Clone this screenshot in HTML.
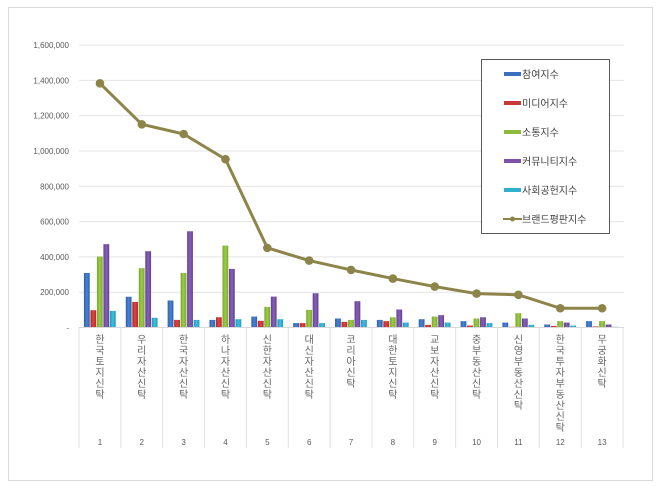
<!DOCTYPE html>
<html><head><meta charset="utf-8"><style>
html,body{margin:0;padding:0;background:#fff;}
svg{display:block;font-family:"Liberation Sans","Noto Sans CJK KR",sans-serif;}
</style></head><body>
<svg width="660" height="488" viewBox="0 0 660 488" xmlns="http://www.w3.org/2000/svg">
<defs>
<linearGradient id="gb" x1="0" x2="1"><stop offset="0" stop-color="#2f5fae"/><stop offset=".5" stop-color="#4a82d2"/><stop offset="1" stop-color="#2f5fae"/></linearGradient>
<linearGradient id="gr" x1="0" x2="1"><stop offset="0" stop-color="#b02a2a"/><stop offset=".5" stop-color="#dc4444"/><stop offset="1" stop-color="#b02a2a"/></linearGradient>
<linearGradient id="gg" x1="0" x2="1"><stop offset="0" stop-color="#7aa72e"/><stop offset=".5" stop-color="#9ccb48"/><stop offset="1" stop-color="#7aa72e"/></linearGradient>
<linearGradient id="gp" x1="0" x2="1"><stop offset="0" stop-color="#634090"/><stop offset=".5" stop-color="#8760b8"/><stop offset="1" stop-color="#634090"/></linearGradient>
<linearGradient id="gc" x1="0" x2="1"><stop offset="0" stop-color="#2198b8"/><stop offset=".5" stop-color="#3fc0dc"/><stop offset="1" stop-color="#2198b8"/></linearGradient>
</defs>
<rect x="8.5" y="7.5" width="644" height="473" fill="#fff" stroke="#d9d9d9"/>
<g id="chart"></g>
</svg>
<script>
const g=document.getElementById('chart');const NS='http://www.w3.org/2000/svg';
function el(t,a,txt){const e=document.createElementNS(NS,t);for(const k in a)e.setAttribute(k,a[k]);if(txt!==undefined)e.textContent=txt;g.appendChild(e);return e;}
const y0=327.5,ppu=282.5/1600000,X0=79,W=41.85;
const Y=v=>y0-v*ppu;
const labs=["1,600,000","1,400,000","1,200,000","1,000,000","800,000","600,000","400,000","200,000","-"];
for(let i=0;i<=8;i++){const v=(8-i)*200000;const y=Y(v);
 if(i<8)el('line',{x1:79,x2:624,y1:y,y2:y,stroke:'#e4e4e4','stroke-width':1});
 el('text',{x:69,y:y+3,'font-size':8,'text-anchor':'end',fill:'#595959'},labs[i]);}
const d=[[309,98,402,472,94,1383],[174,145,336,432,55,1151],[153,43,309,545,43,1096],[43,58,464,332,47,953],[62,38,117,175,47,451],[25,25,100,194,25,379],[51,32,43,149,43,326],[43,36,58,102,28,277],[47,15,62,70,28,232],[36,11,51,58,25,192],[28,4,81,51,15,185],[17,9,36,28,11,109],[36,6,36,17,4,109]];
const fills=['url(#gb)','url(#gr)','url(#gg)','url(#gp)','url(#gc)'];
const names=["한국토지신탁","우리자산신탁","한국자산신탁","하나자산신탁","신한자산신탁","대신자산신탁","코리아신탁","대한토지신탁","교보자산신탁","중부동산신탁","신영부동산신탁","한국투자부동산신탁","무궁화신탁"];
d.forEach((r,i)=>{const cx=X0+W*(i+0.5);
 for(let j=0;j<5;j++){const v=r[j]*1000;el('rect',{x:cx-16+j*6.5,y:Y(v),width:5.8,height:v*ppu,fill:fills[j]});}
});
for(let i=0;i<=13;i++){const x=X0+W*i;el('line',{x1:x,x2:x,y1:327,y2:448,stroke:'#e0e0e0'});}
el('line',{x1:79,x2:624,y1:327.5,y2:327.5,stroke:'#d9d9d9'});
d.forEach((r,i)=>{const cx=X0+W*(i+0.5);
 [...names[i]].forEach((c,k)=>el('text',{x:cx,y:343+k*11,'font-size':10,'text-anchor':'middle',fill:'#666'},c));
 el('text',{x:cx,y:445,'font-size':8,'text-anchor':'middle',fill:'#595959'},String(i+1));
});
const pts=d.map((r,i)=>[X0+W*(i+0.5),Y(r[5]*1000)]);
el('polyline',{points:pts.map(p=>p.join(',')).join(' '),fill:'none',stroke:'#8c8448','stroke-width':3,'stroke-linejoin':'round'});
pts.forEach(p=>el('circle',{cx:p[0],cy:p[1],r:4.3,fill:'#8c8448'}));
el('rect',{x:481.5,y:59.5,width:128,height:174,fill:'#fff',stroke:'#595959'});
const ln=['참여지수','미디어지수','소통지수','커뮤니티지수','사회공헌지수','브랜드평판지수'];
const lc=['#3a6fc0','#c83a3a','#8cbb3c','#7b52a8','#30b0cc'];
ln.forEach((t,i)=>{const y=74+i*29;
 if(i<5)el('rect',{x:504,y:y-2,width:17,height:4,fill:lc[i]});
 else{el('line',{x1:503,x2:522,y1:y,y2:y,stroke:'#8c8448','stroke-width':2});el('circle',{cx:512.5,cy:y,r:2.5,fill:'#8c8448'});}
 el('text',{x:522,y:y+4,'font-size':10,fill:'#404040'},t);});
</script>
</body></html>
